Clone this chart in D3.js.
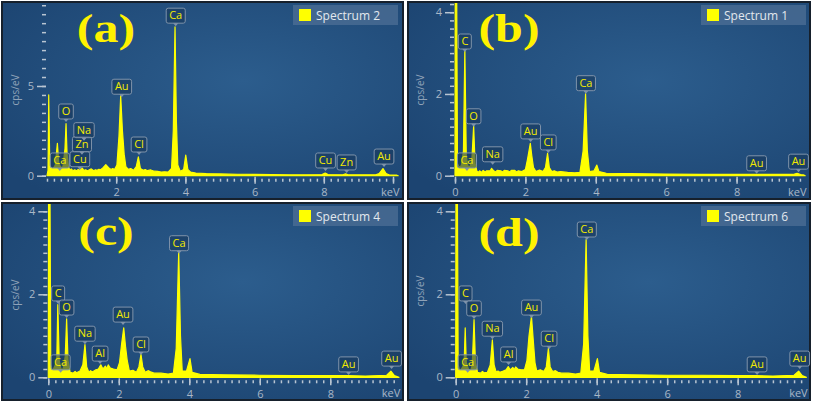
<!DOCTYPE html>
<html>
<head>
<meta charset="utf-8">
<script src="https://cdn.jsdelivr.net/npm/d3@7/dist/d3.min.js"></script>
<style>
  body { margin: 0; background: #fff; }
  svg text { font-family: "Segoe UI", "Open Sans", "Noto Sans", sans-serif; }
</style>
</head>
<body>
<div id="chart"></div>
<script>
// spectra: [keV, cps/eV]
var specA = [[0,0],[0.03,0.3],[0.05,4.5],[0.08,0.6],[0.12,0.45],[0.18,0.4],[0.24,0.6],[0.30,1.8],[0.34,0.7],[0.40,0.45],[0.46,0.5],[0.52,1.5],[0.55,2.9],[0.58,1.2],[0.62,0.5],[0.66,0.3],[0.70,0.38],[0.75,0.28],[0.80,0.33],[0.86,0.27],[0.90,0.35],[0.95,0.3],[1.02,0.42],[1.06,0.3],[1.12,0.33],[1.16,0.26],[1.20,0.3],[1.28,0.38],[1.35,0.28],[1.40,0.33],[1.45,0.3],[1.50,0.36],[1.55,0.33],[1.62,0.45],[1.70,0.62],[1.78,0.45],[1.85,0.35],[1.90,0.4],[1.95,0.35],[2.02,0.6],[2.08,2.2],[2.13,4.45],[2.18,2.5],[2.23,1.2],[2.28,0.5],[2.35,0.35],[2.42,0.4],[2.50,0.3],[2.58,0.5],[2.64,1.05],[2.70,0.4],[2.78,0.3],[2.84,0.34],[2.90,0.28],[3.00,0.32],[3.10,0.25],[3.20,0.24],[3.30,0.2],[3.40,0.22],[3.50,0.2],[3.60,0.4],[3.65,2.5],[3.70,8.3],[3.74,3.0],[3.78,0.6],[3.85,0.25],[3.95,0.35],[4.01,1.15],[4.07,0.35],[4.15,0.2],[4.30,0.15],[4.60,0.12],[5.0,0.1],[5.5,0.08],[6.0,0.07],[6.5,0.06],[7.0,0.05],[7.5,0.05],[7.95,0.06],[8.04,0.15],[8.12,0.06],[8.55,0.05],[8.63,0.1],[8.70,0.05],[9.50,0.05],[9.60,0.12],[9.71,0.4],[9.80,0.12],[9.90,0.04],[10.1,0.03],[10.15,0]];
var specB = [[0,0],[0.01,6],[0.04,6],[0.07,0.3],[0.12,0.2],[0.18,0.25],[0.24,0.6],[0.28,3.08],[0.32,0.5],[0.36,0.25],[0.42,0.2],[0.48,0.4],[0.53,1.22],[0.57,0.3],[0.62,0.12],[0.66,0.08],[0.70,0.12],[0.75,0.08],[0.80,0.13],[0.86,0.09],[0.90,0.12],[1.00,0.12],[1.04,0.18],[1.10,0.12],[1.15,0.09],[1.20,0.13],[1.30,0.12],[1.35,0.09],[1.40,0.13],[1.50,0.12],[1.55,0.09],[1.60,0.13],[1.70,0.13],[1.75,0.09],[1.80,0.12],[1.90,0.1],[2.00,0.15],[2.06,0.4],[2.14,0.79],[2.18,0.5],[2.23,0.2],[2.30,0.1],[2.40,0.14],[2.50,0.1],[2.57,0.2],[2.63,0.55],[2.68,0.2],[2.75,0.1],[2.82,0.12],[2.90,0.09],[3.00,0.1],[3.20,0.08],[3.40,0.07],[3.55,0.08],[3.64,0.6],[3.71,2.0],[3.76,0.6],[3.82,0.1],[3.95,0.12],[4.03,0.26],[4.09,0.1],[4.30,0.06],[5.0,0.05],[6.0,0.04],[7.0,0.03],[8.0,0.03],[8.5,0.03],[9.0,0.03],[9.6,0.03],[9.72,0.06],[9.82,0.03],[9.90,0.02],[9.95,0]];
var specC = [[0,0],[0.01,6],[0.04,6],[0.07,0.3],[0.12,0.15],[0.20,0.3],[0.24,0.4],[0.27,1.75],[0.31,0.4],[0.36,0.2],[0.42,0.2],[0.48,0.5],[0.52,1.41],[0.56,0.4],[0.62,0.12],[0.70,0.1],[0.76,0.14],[0.80,0.11],[0.90,0.15],[0.98,0.3],[1.04,0.79],[1.09,0.25],[1.15,0.12],[1.20,0.16],[1.25,0.13],[1.35,0.18],[1.42,0.2],[1.49,0.3],[1.55,0.2],[1.62,0.27],[1.66,0.2],[1.70,0.3],[1.76,0.22],[1.85,0.2],[1.95,0.18],[2.02,0.35],[2.08,0.8],[2.14,1.19],[2.19,0.75],[2.24,0.4],[2.30,0.15],[2.40,0.17],[2.50,0.12],[2.57,0.25],[2.63,0.55],[2.68,0.25],[2.75,0.12],[2.83,0.16],[2.90,0.13],[3.00,0.1],[3.20,0.1],[3.40,0.08],[3.55,0.1],[3.63,0.7],[3.70,3.04],[3.75,1.0],[3.80,0.15],[3.92,0.15],[4.02,0.45],[4.08,0.12],[4.30,0.07],[5.0,0.06],[6.0,0.05],[7.0,0.04],[8.0,0.04],[8.5,0.04],[9.0,0.03],[9.6,0.05],[9.72,0.15],[9.82,0.04],[9.95,0]];
var specD = [[0,0],[0.01,6],[0.04,6],[0.07,0.3],[0.12,0.15],[0.20,0.25],[0.24,0.35],[0.27,1.19],[0.30,0.35],[0.36,0.2],[0.42,0.15],[0.47,0.3],[0.52,1.39],[0.56,0.35],[0.62,0.12],[0.70,0.1],[0.76,0.14],[0.80,0.11],[0.90,0.12],[0.98,0.3],[1.04,0.9],[1.09,0.3],[1.15,0.12],[1.20,0.15],[1.25,0.12],[1.35,0.15],[1.43,0.18],[1.49,0.26],[1.55,0.18],[1.62,0.24],[1.66,0.18],[1.70,0.25],[1.76,0.2],[1.85,0.18],[1.95,0.18],[2.02,0.4],[2.08,1.0],[2.15,1.47],[2.20,0.9],[2.25,0.35],[2.30,0.15],[2.40,0.18],[2.50,0.14],[2.57,0.25],[2.63,0.7],[2.68,0.25],[2.75,0.14],[2.83,0.16],[2.90,0.12],[3.00,0.1],[3.20,0.1],[3.40,0.08],[3.55,0.1],[3.63,0.8],[3.70,3.32],[3.75,1.0],[3.80,0.15],[3.92,0.15],[4.02,0.45],[4.08,0.12],[4.30,0.07],[5.0,0.06],[6.0,0.05],[7.0,0.05],[8.0,0.04],[8.5,0.04],[9.0,0.03],[9.6,0.05],[9.73,0.15],[9.83,0.04],[9.95,0]];

// peak labels: [element, keV, cps/eV at bottom of tag]
var labelsA = [["Ca",0.37,0.43],["O",0.55,3.16],["Cu",0.95,0.5],["Zn",1.01,1.34],["Na",1.07,2.12],["Au",2.16,4.54],["Cl",2.66,1.32],["Ca",3.72,8.5],["Cu",8.05,0.43],["Zn",8.66,0.32],["Au",9.74,0.65]];
var labelsB = [["Ca",0.34,0.19],["C",0.28,3.1],["O",0.53,1.27],["Na",1.07,0.34],["Au",2.15,0.9],["Cl",2.65,0.63],["Ca",3.72,2.08],["Au",8.57,0.12],["Au",9.76,0.16]];
var labelsC = [["Ca",0.35,0.18],["C",0.28,1.84],["O",0.52,1.5],["Na",1.04,0.87],["Al",1.47,0.39],["Au",2.12,1.33],["Cl",2.63,0.61],["Ca",3.71,3.05],["Au",8.52,0.13],["Au",9.74,0.27]];
var labelsD = [["Ca",0.34,0.18],["C",0.28,1.84],["O",0.52,1.48],["Na",1.04,0.99],["Al",1.5,0.37],["Au",2.15,1.5],["Cl",2.65,0.75],["Ca",3.72,3.38],["Au",8.55,0.13],["Au",9.76,0.27]];

var titles = ["(a)", "(b)", "(c)", "(d)"];
var legendNames = ["Spectrum 2", "Spectrum 1", "Spectrum 4", "Spectrum 6"];
var yTicksA = [0, 5];
var yTicksBCD = [0, 2, 4];
var xTicksA = [2, 4, 6, 8, 10];
var xTicksBCD = [0, 2, 4, 6, 8];

// layout of the four panels
var panels = [
  { spec: specA, labels: labelsA, yTicks: yTicksA, yMinor: 0.5, xTicks: xTicksA,
    box: [2, 2, 403, 199], xr: [47, 398.2], xMax: 10.15, yr: [175.7, 2], yMax: 9.68,
    title: [106, 42], legend: [293, 5], yLab: [15, 90] },
  { spec: specB, labels: labelsB, yTicks: yTicksBCD, yMinor: 0.2, xTicks: xTicksBCD,
    box: [408, 2, 810, 199], xr: [455, 805.2], xMax: 9.95, yr: [175.7, 2], yMax: 4.25,
    title: [509, 42], legend: [701, 5], yLab: [420, 90] },
  { spec: specC, labels: labelsC, yTicks: yTicksBCD, yMinor: 0.2, xTicks: xTicksBCD,
    box: [2, 203, 403, 400], xr: [48.3, 399], xMax: 9.95, yr: [377.3, 203], yMax: 4.2,
    title: [106, 245], legend: [293, 206], yLab: [15, 295] },
  { spec: specD, labels: labelsD, yTicks: yTicksBCD, yMinor: 0.2, xTicks: xTicksBCD,
    box: [408, 203, 810, 400], xr: [455.7, 806.4], xMax: 9.95, yr: [377.3, 203], yMax: 4.2,
    title: [509, 246], legend: [701, 206], yLab: [420, 291] }
];

var W = 813, H = 403;
var svg = d3.select("#chart").append("svg").attr("width", W).attr("height", H);
var defs = svg.append("defs");

var grad = defs.append("radialGradient").attr("id", "bg")
  .attr("cx", "60%").attr("cy", "40%").attr("r", "75%");
grad.append("stop").attr("offset", "0%").attr("stop-color", "#2c5d8d");
grad.append("stop").attr("offset", "100%").attr("stop-color", "#1c4471");

var tickCol = "#b9c5d2", textCol = "#a9b7c7";

panels.forEach(function (p, i) {
  var b = p.box;
  var g = svg.append("g");

  g.append("rect").attr("x", b[0]).attr("y", b[1])
    .attr("width", b[2] - b[0]).attr("height", b[3] - b[1])
    .attr("fill", "url(#bg)").attr("stroke", "#16202c").attr("stroke-width", 2);

  defs.append("clipPath").attr("id", "clip" + i).append("rect")
    .attr("x", b[0] + 1).attr("y", b[1] + 1)
    .attr("width", b[2] - b[0] - 2).attr("height", b[3] - b[1] - 2);

  var x = d3.scaleLinear().domain([0, p.xMax]).range(p.xr);
  var y = d3.scaleLinear().domain([0, p.yMax]).range(p.yr);
  var y0 = y(0);

  // y axis: minor then major ticks
  var ax = p.xr[0] - 1;
  g.append("g").attr("transform", "translate(" + ax + ",0)")
    .call(d3.axisLeft(y).tickValues(d3.range(0, p.yMax, p.yMinor)).tickSize(4).tickFormat(""))
    .call(function (s) { s.select(".domain").remove(); s.selectAll("line").attr("stroke", tickCol).attr("stroke-width", 1.5); });
  g.append("g").attr("transform", "translate(" + ax + ",0)")
    .call(d3.axisLeft(y).tickValues(p.yTicks).tickSize(9).tickPadding(3).tickFormat(d3.format("d")))
    .call(function (s) {
      s.select(".domain").remove();
      s.selectAll("line").attr("stroke", tickCol).attr("stroke-width", 1.5);
      s.selectAll("text").attr("fill", textCol).attr("font-size", 11)
        .style("font-family", '"Segoe UI","Open Sans",sans-serif');
    });

  // x axis
  g.append("g").attr("transform", "translate(0," + (y0 + 3) + ")")
    .call(d3.axisBottom(x).tickValues(d3.range(0, p.xMax, 0.2)).tickSize(3).tickFormat(""))
    .call(function (s) { s.select(".domain").remove(); s.selectAll("line").attr("stroke", tickCol).attr("stroke-width", 1.5); });
  g.append("g").attr("transform", "translate(0," + (y0 + 1) + ")")
    .call(d3.axisBottom(x).tickValues(p.xTicks).tickSize(7).tickPadding(5)
      .tickFormat(function (d) { return d === 10 ? "" : d; }))
    .call(function (s) {
      s.select(".domain").remove();
      s.selectAll("line").attr("stroke", tickCol).attr("stroke-width", 1.5);
      s.selectAll("text").attr("fill", textCol).attr("font-size", 11)
        .style("font-family", '"Segoe UI","Open Sans",sans-serif');
    });

  g.append("text").attr("x", p.xr[1] - 8).attr("y", y0 + 20)
    .attr("text-anchor", "middle").attr("fill", textCol).attr("font-size", 11).text("keV");

  g.append("text").attr("transform", "translate(" + p.yLab[0] + "," + p.yLab[1] + ") rotate(-90)")
    .attr("text-anchor", "middle").attr("dy", "0.35em")
    .attr("fill", "#8fa2b8").attr("font-size", 10).text("cps/eV");

  // spectrum
  var area = d3.area().x(function (d) { return x(d[0]); })
    .y0(y0).y1(function (d) { return y(d[1]); });
  g.append("path").datum(p.spec).attr("d", area)
    .attr("clip-path", "url(#clip" + i + ")")
    .attr("fill", "#ffff00").attr("stroke", "#ffff00").attr("stroke-width", 1.2)
    .attr("stroke-linejoin", "round");

  // peak tags
  var tags = g.selectAll(".tag").data(p.labels).enter().append("g").attr("class", "tag");
  tags.each(function (d) {
    var t = d3.select(this);
    var cx = x(d[1]), by = y(d[2]);
    var txt = t.append("text").attr("x", cx).attr("y", by - 4)
      .attr("text-anchor", "middle").attr("fill", "#f2ea00").attr("font-size", 11).text(d[0]);
    var w = txt.node().getComputedTextLength() + 6;
    t.insert("rect", "text").attr("x", cx - w / 2).attr("y", by - 15).attr("width", w).attr("height", 15)
      .attr("rx", 2).attr("fill", "#17385c").attr("fill-opacity", 0.6)
      .attr("stroke", "#7f93aa").attr("stroke-width", 1);
    t.append("path").attr("d", "M" + (cx - 2.5) + "," + by + "L" + (cx + 2.5) + "," + by + "L" + cx + "," + (by + 3) + "Z")
      .attr("fill", "#7f93aa");
  });

  // legend
  var lg = g.append("g").attr("transform", "translate(" + p.legend[0] + "," + p.legend[1] + ")");
  lg.append("rect").attr("width", 105).attr("height", 20).attr("fill", "#4d6f95").attr("fill-opacity", 0.75);
  lg.append("rect").attr("x", 6).attr("y", 4).attr("width", 12).attr("height", 12).attr("fill", "#ffff00");
  lg.append("text").attr("x", 23).attr("y", 14.5).attr("fill", "#e2e8ee").attr("font-size", 12).text(legendNames[i]);

  // panel letter, widened like the original heavy serif
  g.append("text").attr("transform", "translate(" + p.title[0] + "," + p.title[1] + ") scale(1.25,1)")
    .attr("text-anchor", "middle")
    .style("font-family", '"Liberation Serif","Times New Roman",serif')
    .attr("font-weight", "bold").attr("font-size", 40).attr("fill", "#fff200").text(titles[i]);
});
</script>
</body>
</html>
